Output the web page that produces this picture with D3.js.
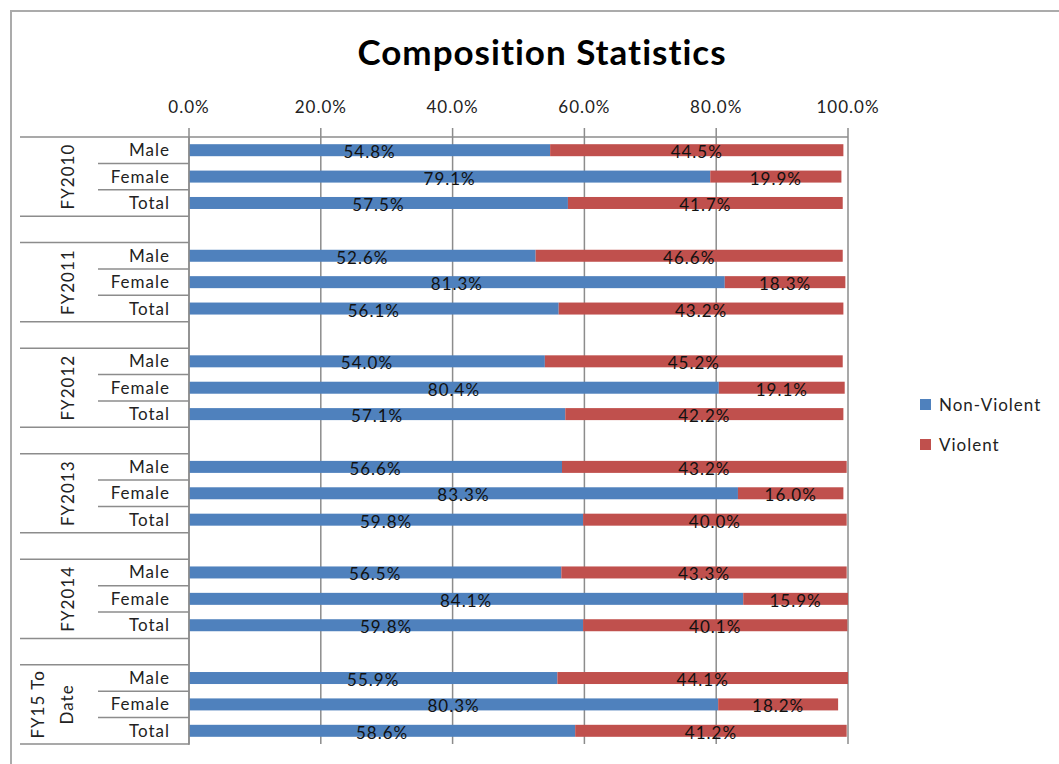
<!DOCTYPE html>
<html>
<head>
<meta charset="utf-8">
<script src="https://cdn.jsdelivr.net/npm/d3@7"></script>
<style>
  body { margin: 0; background: #fff; }
  text { font-family: Lato, "Open Sans", sans-serif; letter-spacing: 1px; }
</style>
</head>
<body>
<div id="chart"></div>
<script>
// data
const groups = ["FY2010", "FY2011", "FY2012", "FY2013", "FY2014", "FY15 To Date"];
const items = ["Male", "Female", "Total"];
const nonViolent = [
  [54.8, 79.1, 57.5],
  [52.6, 81.3, 56.1],
  [54.0, 80.4, 57.1],
  [56.6, 83.3, 59.8],
  [56.5, 84.1, 59.8],
  [55.9, 80.3, 58.6],
];
const violent = [
  [44.5, 19.9, 41.7],
  [46.6, 18.3, 43.2],
  [45.2, 19.1, 42.2],
  [43.2, 16.0, 40.0],
  [43.3, 15.9, 40.1],
  [44.1, 18.2, 41.2],
];
const xTicks = [0, 20, 40, 60, 80, 100];
const seriesNames = ["Non-Violent", "Violent"];
const colors = ["#4F81BD", "#C0504D"];

const width = 1059, height = 764;
const margin = { top: 137, left: 189, right: 211, bottom: 20 };
const fs = "17px";

// rows: each group has 3 items, with an empty row between groups
const rows = [];
groups.forEach((g, gi) => {
  items.forEach((it, ii) => {
    rows.push({ key: g + "|" + it, group: gi, item: it, nv: nonViolent[gi][ii], v: violent[gi][ii] });
  });
  if (gi < groups.length - 1) rows.push({ key: "gap" + gi, gap: true });
});

const svg = d3.select("#chart").append("svg")
  .attr("width", width)
  .attr("height", height);

// chart frame
svg.append("rect")
  .attr("x", 11).attr("y", 11)
  .attr("width", width + 20).attr("height", height + 20)
  .attr("fill", "none")
  .attr("stroke", "#ababab")
  .attr("stroke-width", 2);

const x = d3.scaleLinear().domain([0, 100]).range([margin.left, 848]);
const y = d3.scaleBand().domain(rows.map(d => d.key)).range([margin.top, 744]).paddingInner(0).paddingOuter(0);
const step = y.step();
const barH = 12;

// title
svg.append("text")
  .attr("x", 542).attr("y", 65)
  .attr("text-anchor", "middle")
  .style("font-size", "35px")
  .style("font-weight", "bold")
  .text("Composition Statistics");

// gridlines + top ticks
svg.append("g").selectAll("line").data(xTicks).enter().append("line")
  .attr("x1", d => x(d)).attr("x2", d => x(d))
  .attr("y1", margin.top - 9).attr("y2", 744)
  .attr("stroke", "#8c8c8c").attr("stroke-width", 1.5);

// top axis line
svg.append("line")
  .attr("x1", 20).attr("x2", x(100))
  .attr("y1", margin.top).attr("y2", margin.top)
  .attr("stroke", "#8c8c8c").attr("stroke-width", 1.5);

svg.append("g").selectAll("text").data(xTicks).enter().append("text")
  .attr("x", d => x(d)).attr("y", 113)
  .attr("text-anchor", "middle")
  .style("font-size", fs)
  .attr("fill", "#222")
  .text(d => d.toFixed(1) + "%");

// bars
const dataRows = rows.filter(d => !d.gap);
const barG = svg.append("g");
dataRows.forEach(d => {
  const yc = y(d.key) + step / 2;
  barG.append("rect")
    .attr("x", x(0)).attr("y", yc - barH / 2)
    .attr("width", x(d.nv) - x(0)).attr("height", barH)
    .attr("fill", colors[0]);
  barG.append("rect")
    .attr("x", x(d.nv)).attr("y", yc - barH / 2)
    .attr("width", x(d.nv + d.v) - x(d.nv)).attr("height", barH)
    .attr("fill", colors[1]);
  barG.append("text")
    .attr("x", (x(0) + x(d.nv)) / 2).attr("y", yc + 8)
    .attr("text-anchor", "middle").style("font-size", fs)
    .attr("fill", "#111")
    .text(d.nv.toFixed(1) + "%");
  barG.append("text")
    .attr("x", (x(d.nv) + x(d.nv + d.v)) / 2).attr("y", yc + 8)
    .attr("text-anchor", "middle").style("font-size", fs)
    .attr("fill", "#111")
    .text(d.v.toFixed(1) + "%");
});

// category axis
const axisG = svg.append("g");
axisG.append("line")
  .attr("x1", x(0)).attr("x2", x(0))
  .attr("y1", margin.top).attr("y2", 745)
  .attr("stroke", "#8c8c8c").attr("stroke-width", 1.5);

// horizontal separators
rows.forEach(d => {
  const yTop = y(d.key);
  const yBot = yTop + step;
  // inner lines between items are short, group/gap boundaries go full width
  const x1 = (!d.gap && d.item !== "Total") ? 98 : 20;
  axisG.append("line").attr("x1", x1).attr("x2", x(0)).attr("y1", yBot).attr("y2", yBot)
    .attr("stroke", "#8c8c8c").attr("stroke-width", 1.5);
  if (!d.gap) {
    axisG.append("text")
      .attr("x", 170).attr("y", yTop + step / 2 + 6)
      .attr("text-anchor", "end").style("font-size", fs)
      .attr("fill", "#222")
      .text(d.item);
  }
});

// group labels, rotated
groups.forEach(g => {
  const yMid = y(g + "|Female") + step / 2;
  const words = g === "FY15 To Date" ? ["FY15 To", "Date"] : [g];
  const t = axisG.append("text")
    .attr("transform", `translate(${words.length > 1 ? 53 : 68},${yMid}) rotate(-90)`)
    .attr("text-anchor", "middle").style("font-size", fs)
    .attr("fill", "#222");
  words.forEach((w, wi) => {
    t.append("tspan").attr("x", 0)
      .attr("dy", words.length > 1 ? (wi === 0 ? -9 : 29) : 6)
      .text(w);
  });
});

// legend
const legend = svg.append("g");
seriesNames.forEach((s, i) => {
  const ly = 405 + i * 40;
  legend.append("rect").attr("x", 920).attr("y", ly - 6).attr("width", 11).attr("height", 11)
    .attr("fill", colors[i]);
  legend.append("text").attr("x", 939).attr("y", ly + 6)
    .style("font-size", fs).attr("fill", "#222")
    .text(s);
});
</script>
</body>
</html>
